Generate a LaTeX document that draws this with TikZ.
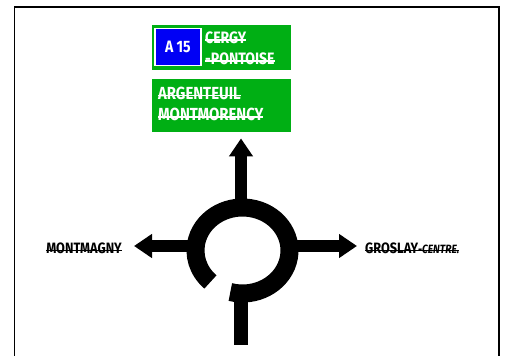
\documentclass[tikz,border=0pt]{standalone}
\usepackage{fontspec}
\setmainfont{Fira Sans}
\newfontfamily\signfont{Fira Sans}[FakeStretch=0.85]
\usetikzlibrary{arrows.meta,positioning}
\definecolor{signgreen}{RGB}{0,175,20}
\definecolor{shieldblue}{RGB}{0,0,245}
\newcommand\strk[1]{\setbox0\hbox{#1}\rlap{\rule[0.17em]{\wd0}{0.075em}}\box0}
\tikzset{
  >={Triangle[length=18pt,width=23pt]},
  sign/.style={rectangle,fill=signgreen,inner sep=0pt,minimum width=139pt},
  shield/.style={rectangle,draw=white,line width=1.5pt,fill=shieldblue,text=white,
    minimum width=46pt,minimum height=37pt,inner sep=0pt,
    font=\signfont\bfseries\fontsize{16.5}{16.5}\selectfont},
  signtxt/.style={text=white,inner sep=0pt,align=left,anchor=north west},
  ring/.style={line width=18pt},
  arm/.style={line width=12pt},
  lbl/.style={inner sep=0pt,font=\signfont\bfseries\fontsize{15}{15}\selectfont}
}

\begin{document}
\begin{tikzpicture}[x=1pt,y=1pt]
    \useasboundingbox (0,0) rectangle (507,356);
    % Frame, open at the bottom
    \draw[line width=1.6pt] (14.3,0) -- (14.3,349) -- (498.8,349) -- (498.8,0);

    % Direction signs
    \node[sign, minimum height=45pt] (sign1) at (221.2,308.5) {};
    \node[shield] (a15) at (177.9,308.8) {A 15};
    \node[signtxt, font=\signfont\bfseries\fontsize{16.5}{21}\selectfont] (cergy) at (205,324.6)
      {\strk{CERGY}\\\strk{-PONTOISE}};
    \node[sign, minimum height=53.5pt] (sign2) at (221.2,250.5) {};
    \node[signtxt, font=\signfont\bfseries\fontsize{17.5}{21.5}\selectfont] (argenteuil) at (158,269.5)
      {\strk{ARGENTEUIL}\\\strk{MONTMORENCY}};

    % Roundabout ring
    \coordinate (rb) at (242.5,105.5);
    \draw[ring] (rb) ++(-105:47 and 43) arc[start angle=-105, end angle=227, x radius=47, y radius=43];

    % Arms
    \coordinate (ringN) at (241,152);
    \coordinate (ringW) at (196,110);
    \coordinate (ringE) at (289,110);
    \coordinate (ringS) at (241,66);
    \coordinate (entry) at (241,11);

    % Destinations
    \node[lbl, anchor=east] (montmagny) at (122,108) {\strk{MONTMAGNY}};
    \node[lbl, anchor=west] (groslay) at (365,108)
      {\strk{GROSLAY}\strk{\fontsize{12}{12}\selectfont\itshape -CENTRE.}};

    \draw[arm, ->, shorten >=6pt] (ringN) -- (ringN |- sign2.south);
    \draw[arm, ->, shorten >=12pt] (ringW) -- (ringW -| montmagny.east);
    \draw[arm, ->, shorten >=8pt] (ringE) -- (ringE -| groslay.west);
    \draw[arm, line width=13.5pt] (entry) -- (ringS);
\end{tikzpicture}
\end{document}
